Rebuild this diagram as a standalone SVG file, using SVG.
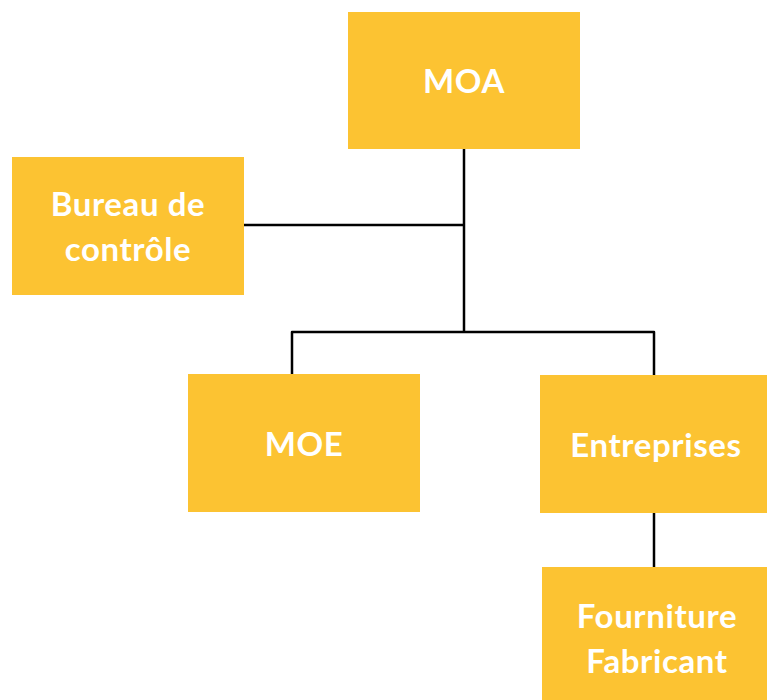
<svg xmlns="http://www.w3.org/2000/svg" width="767" height="700" viewBox="0 0 767 700">
<style>
.box{fill:#FCC332}
.lbl{font-family:Lato,"Open Sans","Liberation Sans",sans-serif;font-weight:bold;font-size:33px;letter-spacing:0.6px;fill:#FFFFFF;text-anchor:middle}
.con{fill:none;stroke:#000000;stroke-width:2.5;stroke-linejoin:round}
</style>
<rect width="767" height="700" fill="#FFFFFF"/>
<g id="connectors">
<path class="con" d="M464,149 V332"/>
<path class="con" d="M244,225 H464"/>
<path class="con" d="M292,374 V332 H654 V375"/>
<path class="con" d="M654,513 V567"/>
</g>
<g id="moa"><rect class="box" x="348" y="12" width="232" height="137"/><text class="lbl" x="464" y="93">MOA</text></g>
<g id="bureau"><rect class="box" x="12" y="157" width="232" height="138"/><text class="lbl" x="128" y="216">Bureau de</text><text class="lbl" x="128" y="261">contrôle</text></g>
<g id="moe"><rect class="box" x="188" y="374" width="232" height="138"/><text class="lbl" x="304" y="456">MOE</text></g>
<g id="entreprises"><rect class="box" x="540" y="375" width="232" height="138"/><text class="lbl" x="656" y="457">Entreprises</text></g>
<g id="fourniture"><rect class="box" x="542" y="567" width="232" height="140"/><text class="lbl" x="657" y="628">Fourniture</text><text class="lbl" x="657" y="673">Fabricant</text></g>
</svg>
